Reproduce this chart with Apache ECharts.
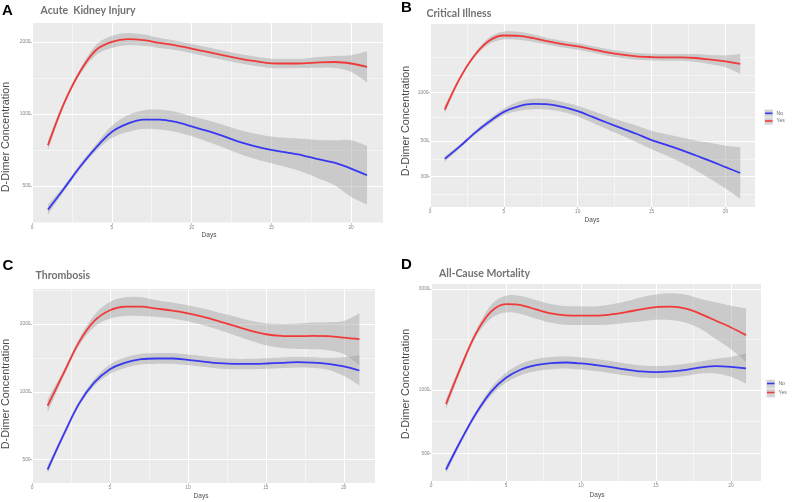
<!DOCTYPE html>
<html><head><meta charset="utf-8">
<script src="https://cdn.jsdelivr.net/npm/echarts@6/dist/echarts.min.js"></script>
<style>html,body{margin:0;padding:0;background:#fff}#c{width:800px;height:502px}</style>
</head><body><div id="c"></div>
<script>
// ---------- data ----------
const days = [1,2,3,4,5,6,7,8,9,10,11,12,13,14,15,16,17,18,19,20,21];
const xTicks = [0,5,10,15,20];
const xMinorTicks = [2.5,7.5,12.5,17.5];
const groupNames = ['No','Yes'];

// A: Acute Kidney Injury
const akiTicks = [500,1000,2000];
const akiMinor = [354,707,1414];
const akiNo   = [398,487,600,722,841,911,947,947,926,888,849,807,764,732,707,689,670,646,624,591,554];
const akiNoLo = [379,475,585,699,793,841,866,860,841,807,766,724,681,648,622,598,571,536,502,450,418];
const akiNoHi = [418,500,616,746,891,987,1036,1043,1020,978,941,900,857,827,804,794,787,778,776,777,735];
const akiYes   = [740,1105,1498,1846,2000,2054,2034,1981,1936,1876,1816,1758,1704,1661,1628,1625,1628,1644,1649,1625,1573];
const akiYesLo = [705,1077,1460,1760,1887,1938,1926,1888,1851,1793,1736,1681,1629,1588,1556,1554,1556,1561,1556,1500,1353];
const akiYesHi = [776,1134,1537,1937,2120,2177,2148,2078,2025,1962,1900,1839,1782,1737,1703,1700,1703,1731,1748,1760,1829];

// B: Critical Illness
const ciTicks = [300,500,1000];
const ciMinor = [232,387,707,1291,1667];
const ciNo   = [387,461,558,659,760,823,851,847,815,767,707,650,599,553,507,473,440,406,375,344,316];
const ciNoLo = [372,448,542,634,725,770,789,785,759,711,649,591,540,491,444,406,367,328,289,253,218];
const ciNoHi = [402,474,574,685,797,880,918,914,875,828,770,714,665,623,579,551,527,503,487,468,458];
const ciYes   = [785,1220,1701,2106,2272,2262,2188,2086,2008,1943,1862,1784,1726,1685,1668,1660,1660,1645,1607,1569,1511];
const ciYesLo = [741,1186,1653,2008,2145,2136,2076,1989,1914,1852,1775,1701,1645,1606,1590,1582,1582,1553,1503,1441,1310];
const ciYesHi = [831,1255,1750,2209,2406,2395,2306,2188,2106,2038,1953,1871,1811,1768,1750,1741,1741,1742,1718,1709,1742];

// C: Thrombosis
const thrTicks = [500,1000,2000];
const thrMinor = [707,1414,2828];
const thrNo   = [452,639,882,1100,1260,1348,1395,1405,1405,1386,1362,1339,1330,1330,1335,1344,1353,1348,1330,1295,1243];
const thrNoLo = [434,622,858,1063,1201,1277,1321,1330,1330,1313,1290,1268,1259,1259,1264,1273,1281,1277,1251,1177,1067];
const thrNoHi = [471,657,907,1139,1322,1423,1473,1484,1484,1464,1438,1414,1404,1404,1410,1419,1429,1423,1414,1425,1448];
const thrYes   = [867,1197,1653,2062,2299,2386,2386,2338,2291,2229,2148,2055,1960,1868,1800,1770,1764,1770,1764,1740,1711];
const thrYesLo = [810,1157,1597,1940,2111,2169,2169,2147,2112,2054,1972,1882,1782,1687,1609,1566,1550,1545,1530,1468,1313];
const thrYesHi = [928,1239,1711,2192,2504,2625,2625,2546,2486,2418,2339,2244,2156,2068,2014,2000,2007,2028,2034,2062,2229];

// D: All-Cause Mortality
const mortTicks = [500,1000,3000];
const mortMinor = [707,1732];
const mortNo   = [419,577,772,978,1140,1248,1309,1338,1347,1333,1309,1281,1248,1222,1213,1222,1244,1276,1295,1285,1262];
const mortNoLo = [401,560,750,936,1080,1173,1226,1253,1261,1248,1226,1199,1169,1144,1136,1144,1165,1195,1196,1152,1071];
const mortNoHi = [438,594,795,1022,1204,1328,1398,1429,1439,1424,1398,1368,1333,1305,1295,1305,1329,1363,1402,1433,1487];
const mortYes   = [855,1285,1849,2343,2547,2519,2403,2300,2251,2244,2244,2275,2334,2403,2465,2475,2421,2284,2123,1974,1816];
const mortYesLo = [810,1239,1783,2178,2326,2284,2171,2078,2033,2027,2027,2040,2077,2108,2147,2139,2078,1939,1737,1558,1357];
const mortYesHi = [903,1333,1917,2521,2789,2778,2660,2546,2492,2484,2484,2537,2623,2739,2830,2864,2821,2691,2594,2501,2430];

// ---------- layout / style ----------
const BLUE = '#3838f0', RED = '#f03a3a';
const panels = [
  {letter:'A', title:'Acute  Kidney Injury', ticks:akiTicks, minor:akiMinor,
   no:[akiNo,akiNoLo,akiNoHi], yes:[akiYes,akiYesLo,akiYesHi], yMin:350, yMax:2400,
   grid:{left:32,top:23,width:351,height:200}, letterPos:[2,10.5], titlePos:[40.5,10.5], yTitle:[6.5,137], xTitle:[209,235.5], legend:null},
  {letter:'B', title:'Critical Illness', ticks:ciTicks, minor:ciMinor,
   no:[ciNo,ciNoLo,ciNoHi], yes:[ciYes,ciYesLo,ciYesHi], yMin:194, yMax:2680,
   grid:{left:430,top:24,width:325,height:183}, letterPos:[401,8], titlePos:[426.5,14], yTitle:[406,121], xTitle:[592,220.5], legend:[765,113.3,7.7]},
  {letter:'C', title:'Thrombosis', ticks:thrTicks, minor:thrMinor,
   no:[thrNo,thrNoLo,thrNoHi], yes:[thrYes,thrYesLo,thrYesHi], yMin:394, yMax:2857,
   grid:{left:32,top:289,width:343,height:194}, letterPos:[2.5,265.5], titlePos:[35.5,276], yTitle:[6.5,394], xTitle:[201,496], legend:null},
  {letter:'D', title:'All-Cause Mortality', ticks:mortTicks, minor:mortMinor,
   no:[mortNo,mortNoLo,mortNoHi], yes:[mortYes,mortYesLo,mortYesHi], yMin:370, yMax:3170,
   grid:{left:431,top:284,width:330,height:197}, letterPos:[401,265], titlePos:[439,273.5], yTitle:[406,384], xTitle:[597,495.5], legend:[767,383.5,9]}
];

// Catmull-Rom densification of pixel points (rendering only)
function densify(pts, n) {
  const out = [];
  for (let i = 0; i < pts.length - 1; i++) {
    const p0 = pts[Math.max(i-1,0)], p1 = pts[i], p2 = pts[i+1], p3 = pts[Math.min(i+2, pts.length-1)];
    for (let s = 0; s < n; s++) {
      const t = s / n, t2 = t*t, t3 = t2*t;
      const f = (a,b,c,d) => 0.5*((2*b) + (-a + c)*t + (2*a - 5*b + 4*c - d)*t2 + (-a + 3*b - 3*c + d)*t3);
      out.push([f(p0[0],p1[0],p2[0],p3[0]), f(p0[1],p1[1],p2[1],p3[1])]);
    }
  }
  out.push(pts[pts.length-1]);
  return out;
}

const grids=[], xAxes=[], yAxes=[], series=[], graphics=[], legends=[];
const tickLabelStyle = {fontSize:4.8, color:'#858585', fontFamily:'Liberation Sans, Arial, sans-serif'};

panels.forEach((p, i) => {
  grids.push(Object.assign({show:true, backgroundColor:'#ebebeb', borderWidth:0, containLabel:false}, p.grid));
  xAxes.push({type:'value', gridIndex:i, min:0, max:22, axisLine:{show:false},
    axisTick:{show:true, length:2, lineStyle:{color:'#9a9a9a', width:0.6}, customValues:xTicks},
    axisLabel:Object.assign({customValues:xTicks, margin:2, formatter:v=>String(Math.round(v))}, tickLabelStyle),
    splitLine:{show:true, lineStyle:{color:'#ffffff', width:1}}});
  xAxes.push({type:'value', gridIndex:i, min:0, max:22, position:'bottom', axisLine:{show:false},
    axisTick:{show:false, customValues:xMinorTicks}, axisLabel:{show:false},
    splitLine:{show:true, lineStyle:{color:'#f7f7f7', width:0.8}}});
  yAxes.push({type:'log', gridIndex:i, min:p.yMin, max:p.yMax, axisLine:{show:false},
    axisTick:{show:true, length:2, lineStyle:{color:'#9a9a9a', width:0.6}, customValues:p.ticks},
    axisLabel:Object.assign({customValues:p.ticks, margin:1.5, formatter:v=>String(Math.round(v))}, tickLabelStyle),
    splitLine:{show:true, lineStyle:{color:'#ffffff', width:1}}});
  yAxes.push({type:'log', gridIndex:i, min:p.yMin, max:p.yMax, position:'left', axisLine:{show:false},
    axisTick:{show:false, customValues:p.minor}, axisLabel:{show:false},
    splitLine:{show:true, lineStyle:{color:'#f7f7f7', width:0.8}}});

  [['No', p.no, BLUE], ['Yes', p.yes, RED]].forEach(([name, arr, col]) => {
    const [mid, lo, hi] = arr;
    series.push({type:'custom', name:'ci'+name, xAxisIndex:2*i, yAxisIndex:2*i, silent:true,
      encode:{x:0, y:[1,2]},
      data: days.map((d,k)=>[d, lo[k], hi[k]]),
      renderItem: (params, api) => {
        if (params.dataIndex !== 0) return null;
        const up = days.map((d,k)=>api.coord([d, hi[k]]));
        const dn = days.map((d,k)=>api.coord([d, lo[k]]));
        const pts = densify(up, 8).concat(densify(dn, 8).reverse());
        return {type:'polygon', shape:{points:pts}, style:{fill:'#999999', opacity:0.4}};
      }});
    series.push({type:'line', name:name, xAxisIndex:2*i, yAxisIndex:2*i, smooth:0.33,
      symbol:'none', color:col, lineStyle:{color:col, width:1.8},
      data: days.map((d,k)=>[d, mid[k]])});
  });

  graphics.push({type:'text', x:p.letterPos[0], y:p.letterPos[1],
    style:{text:p.letter, font:'bold 15px "Liberation Sans", Arial, sans-serif', fill:'#000',
      align:'left', verticalAlign:'middle', textAlign:'left', textVerticalAlign:'middle'}});
  graphics.push({type:'text', x:p.titlePos[0], y:p.titlePos[1],
    style:{text:p.title, font:'bold 10.5px Lato, "Open Sans", sans-serif', fill:'#727272',
      align:'left', verticalAlign:'middle', textAlign:'left', textVerticalAlign:'middle'}});
  graphics.push({type:'text', x:p.yTitle[0], y:p.yTitle[1], rotation:Math.PI/2,
    style:{text:'D-Dimer Concentration', font:'10.8px "Liberation Sans", Arial, sans-serif', fill:'#4a4a4a',
      align:'center', verticalAlign:'middle', textAlign:'center', textVerticalAlign:'middle'}});
  graphics.push({type:'text', x:p.xTitle[0], y:p.xTitle[1],
    style:{text:'Days', font:'6.5px "Liberation Sans", Arial, sans-serif', fill:'#505050',
      align:'center', verticalAlign:'middle', textAlign:'center', textVerticalAlign:'middle'}});

  if (p.legend) {
    const [lx, ly, gap] = p.legend;
    [0,1].forEach(k => {
      graphics.push({type:'rect', shape:{x:lx-0.5, y:ly + k*gap - 3.7, width:8.5, height:gap-0.4},
        style:{fill:'#d2d2d2', stroke:'#eeeeee', lineWidth:0.5}});
    });
    legends.push({data:groupNames, orient:'vertical', left:lx, top:ly-3, padding:0,
      itemWidth:7.5, itemHeight:1.6, itemGap:gap-6, icon:'rect', selectedMode:false,
      textStyle:{fontSize:5, lineHeight:6, color:'#6a6a6a', padding:[0,0,0,-1], fontFamily:'Liberation Sans, Arial, sans-serif'}});
  }
});

const chart = echarts.init(document.getElementById('c'), null, {renderer:'canvas'});
chart.setOption({
  animation:false,
  backgroundColor:'#ffffff',
  grid:grids, xAxis:xAxes, yAxis:yAxes, series:series, legend:legends,
  graphic:{elements:graphics}
});
</script></body></html>
